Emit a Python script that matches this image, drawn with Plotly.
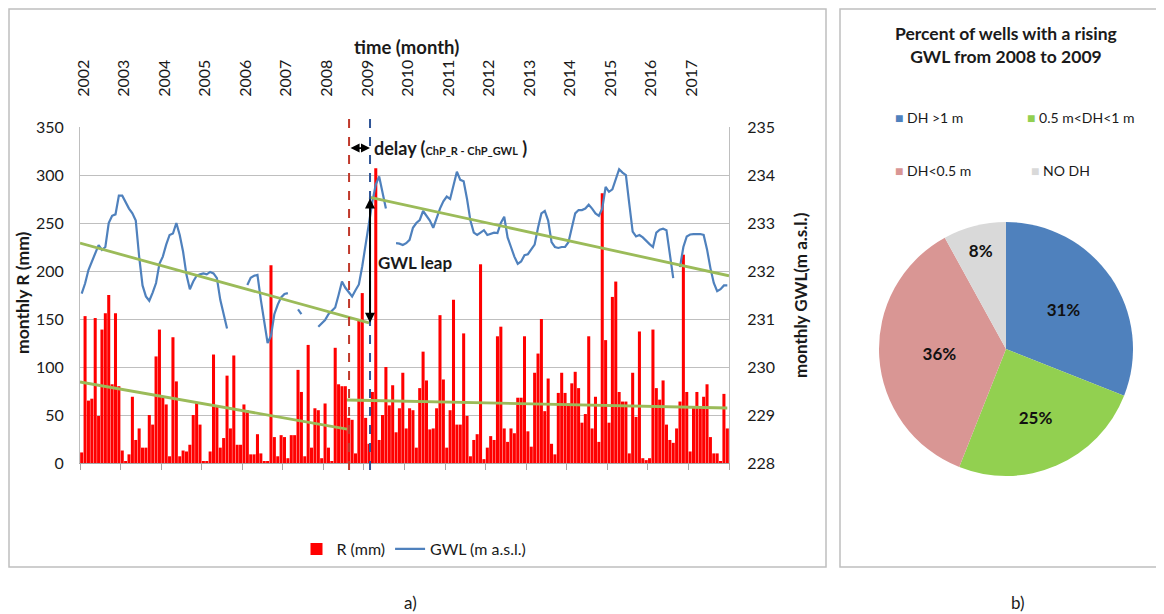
import plotly.graph_objects as go

# The page body has an 8px margin; the figure is sized to fill the rest of the window.
OFF = 8
W, H = 1164 - OFF, 614 - OFF

# ---------------- data ----------------
years = list(range(2002, 2018))
months = list(range(192))  # month index since Jan 2002

R_mm = [
    11, 153, 65, 67, 151, 49, 139, 156, 175, 82, 156, 80,      # 2002
    13, 2, 9, 69, 24, 36, 16, 16, 50, 40, 111, 139,            # 2003
    69, 61, 7, 131, 85, 7, 13, 12, 19, 50, 63, 40,             # 2004
    2, 2, 12, 113, 60, 16, 26, 91, 36, 112, 19, 19,            # 2005
    61, 55, 9, 9, 30, 10, 2, 2, 206, 27, 7, 29,                # 2006
    27, 5, 29, 29, 97, 74, 7, 123, 16, 57, 55, 5,              # 2007
    62, 16, 2, 120, 82, 80, 80, 47, 45, 10, 150, 177,          # 2008
    47, 20, 74, 307, 24, 50, 100, 60, 81, 32, 57, 94,          # 2009
    36, 57, 55, 16, 78, 116, 86, 35, 36, 57, 154, 87,          # 2010
    16, 55, 170, 40, 40, 135, 49, 7, 24, 30, 207, 4,           # 2011
    16, 28, 24, 132, 142, 36, 22, 36, 31, 68, 68, 132,         # 2012
    33, 17, 94, 114, 150, 54, 88, 20, 9, 73, 94, 73,           # 2013
    62, 83, 95, 78, 42, 51, 132, 36, 69, 22, 281, 128,         # 2014
    42, 173, 189, 74, 64, 64, 10, 94, 48, 137, 5, 3,           # 2015
    5, 139, 78, 66, 86, 40, 24, 21, 36, 64, 217, 74,           # 2016
    12, 58, 74, 58, 69, 82, 27, 10, 10, 2, 72, 36,             # 2017
]

GWL = [
    231.53, 231.74, 232.02, 232.2, 232.4, 232.54, 232.44, 232.5, 233.0, 233.15, 233.18, 233.57,
    233.57, 233.43, 233.3, 233.2, 233.05, 232.3, 231.7, 231.47, 231.38, 231.55, 231.75, 232.15,
    232.3, 232.55, 232.75, 232.78, 233.0, 232.75, 232.4, 231.92, 231.62, 231.78, 231.9, 231.93,
    231.95, 231.93, 231.98, 231.95, 231.85, 231.4, 231.08, 230.8, None, None, None, None,
    None, 231.71, 231.86, 231.9, 231.92, 231.4, 230.94, 230.5, 230.65, 231.1, 231.3, 231.45,
    231.52, 231.54, None, None, 231.2, 231.1, None, None, None, None, 230.84, 230.9,
    230.98, 231.1, 231.18, 231.24, 231.5, 231.78, 231.65, 231.55, 231.47, 231.6, 231.72, 232.1,
    232.6, 233.0, 233.45, 233.8, 233.97, 233.65, 233.3, None, None, 232.58, 232.57, 232.54,
    232.58, 232.65, 232.9, 233.0, 233.06, 233.25, 233.15, 233.05, 232.9, 233.1, 233.3, 233.45,
    233.55, 233.5, 233.8, 234.07, 233.9, 233.87, 233.5, 233.05, 232.8, 232.75, 232.8, 232.85,
    232.75, 232.78, 232.8, 232.79, 233.0, 233.13, 232.7, 232.5, 232.3, 232.15, 232.2, 232.33,
    232.35, 232.45, 232.55, 232.9, 233.2, 233.25, 233.05, 232.6, 232.5, 232.48, 232.5, 232.5,
    232.6, 232.9, 233.2, 233.27, 233.27, 233.3, 233.38, 233.3, 233.2, 233.15, 233.3, 233.75,
    233.65, 233.7, 233.9, 234.12, 234.05, 234.0, 233.4, 232.82, 232.72, 232.75, 232.7, 232.62,
    232.56, 232.5, 232.8, 232.86, 232.88, 232.85, 232.4, 231.85, None, 232.08, 232.5, 232.72,
    232.76, 232.77, 232.77, 232.77, 232.75, 232.45, 232.06, 231.75, 231.58, 231.62, 231.7, 231.7,
]

# change points (month index) and trend lines (start/end)
chp_R = 79.1
chp_GWL = 85.3
trend_R1_x, trend_R1_y = [-0.5, 78.5], [84.4, 35.4]
trend_R2_x, trend_R2_y = [78.5, 191.0], [65.6, 57.3]
trend_G1_x, trend_G1_y = [-0.5, 85.0], [232.58, 230.92]
trend_G2_x, trend_G2_y = [85.0, 191.5], [233.54, 231.9]

pie_labels = ["DH >1 m", "0.5 m<DH<1 m", "DH<0.5 m", "NO DH"]
pie_values = [31, 25, 36, 8]
pie_colors = ["#4F81BD", "#92D050", "#D99694", "#D9D9D9"]

# ---------------- helpers ----------------
FONT = "Lato, 'Open Sans', sans-serif"
TXT = "#1a1a1a"

def px(x):
    return (x - OFF) / W

def py(y):
    return 1 - (y - OFF) / H

fig = go.Figure()

fig.add_trace(go.Bar(x=months, y=R_mm, name="R (mm)", marker=dict(color="#FF0000", line=dict(width=0)),
                     yaxis="y", xaxis="x"))
fig.add_trace(go.Scatter(x=months, y=GWL, name="GWL (m a.s.l.)", mode="lines",
                         line=dict(color="#4F81BD", width=2.2), yaxis="y2", xaxis="x", connectgaps=False))

trend_style = dict(color="#9BBB59", width=2.8)
fig.add_trace(go.Scatter(x=trend_R1_x, y=trend_R1_y, mode="lines", line=trend_style, showlegend=False, yaxis="y"))
fig.add_trace(go.Scatter(x=trend_R2_x, y=trend_R2_y, mode="lines", line=trend_style, showlegend=False, yaxis="y"))
fig.add_trace(go.Scatter(x=trend_G1_x, y=trend_G1_y, mode="lines", line=trend_style, showlegend=False, yaxis="y2"))
fig.add_trace(go.Scatter(x=trend_G2_x, y=trend_G2_y, mode="lines", line=trend_style, showlegend=False, yaxis="y2"))

# dummy trace for top axis
fig.add_trace(go.Scatter(x=[0], y=[0], mode="markers", marker=dict(opacity=0), showlegend=False,
                         hoverinfo="skip", xaxis="x2", yaxis="y"))

fig.add_trace(go.Pie(labels=pie_labels, values=pie_values, marker=dict(colors=pie_colors, line=dict(width=0)),
                     sort=False, direction="clockwise", rotation=0,
                     texttemplate="<b>%{percent:.0%}</b>",
                     textposition="inside", insidetextorientation="horizontal",
                     textfont=dict(size=17, color="#111", family=FONT), showlegend=False,
                     domain=dict(x=[px(1006 - 127), px(1006 + 127)], y=[py(349 + 127), py(349 - 127)])))

year_ticks = [12 * k + 0.5 for k in range(len(years))]

fig.update_layout(
    width=W, height=H,
    margin=dict(l=0, r=0, t=0, b=0, autoexpand=False),
    paper_bgcolor="white", plot_bgcolor="white",
    font=dict(family=FONT, size=16, color=TXT),
    bargap=0.1,
    xaxis=dict(domain=[px(80), px(729)], range=[-0.5, 191.5], showgrid=False, zeroline=False,
               showline=True, linecolor="#A6A6A6", linewidth=1, automargin=False,
               tickmode="array", tickvals=[12 * k - 0.5 for k in range(17)], ticks="outside",
               ticklen=6, tickcolor="#A6A6A6", showticklabels=False),
    xaxis2=dict(overlaying="x", side="top", anchor="y", range=[-0.5, 191.5], showgrid=False,
                zeroline=False, showline=False, tickmode="array", tickvals=year_ticks, automargin=False,
                ticktext=[str(y) for y in years], tickangle=-90, ticks="outside", ticklen=26,
                tickcolor="rgba(0,0,0,0)", tickfont=dict(size=16, color=TXT)),
    yaxis=dict(domain=[py(463), py(127)], range=[0, 350], dtick=50, showgrid=True, gridcolor="#BFBFBF",
               gridwidth=1, zeroline=False, showline=True, linecolor="#BFBFBF", automargin=False,
               ticks="outside", ticklen=12, tickcolor="rgba(0,0,0,0)", tickfont=dict(size=16, color=TXT)),
    yaxis2=dict(overlaying="y", side="right", anchor="x", range=[228, 235], dtick=1, showgrid=False,
                zeroline=False, showline=True, linecolor="#BFBFBF", automargin=False,
                ticks="outside", ticklen=14, tickcolor="rgba(0,0,0,0)", tickfont=dict(size=16, color=TXT)),
    legend=dict(orientation="h", x=px(414), xanchor="center", y=py(549), yanchor="middle",
                font=dict(size=16, color=TXT), bgcolor="rgba(0,0,0,0)", traceorder="normal"),
)

shapes = [
    # panel frames
    dict(type="rect", xref="paper", yref="paper", x0=px(9), x1=px(826), y0=py(567), y1=py(9),
         line=dict(color="#BFBFBF", width=1.5)),
    dict(type="rect", xref="paper", yref="paper", x0=px(840), x1=px(1162), y0=py(567), y1=py(9),
         line=dict(color="#BFBFBF", width=1.5)),
    # change point lines
    dict(type="line", xref="x", yref="paper", x0=chp_R, x1=chp_R, y0=py(470), y1=py(117),
         line=dict(color="#C0392B", width=2, dash="dash")),
    dict(type="line", xref="x", yref="paper", x0=chp_GWL, x1=chp_GWL, y0=py(470), y1=py(117),
         line=dict(color="#2F5597", width=2, dash="dash")),
]
fig.update_layout(shapes=shapes)


def label(text, x, y, size, xanchor="center", angle=0):
    return dict(text=text, x=px(x), y=py(y), xref="paper", yref="paper", showarrow=False,
                xanchor=xanchor, yanchor="middle", textangle=angle, font=dict(size=size, color=TXT))


ann = [
    label("<b>time (month)</b>", 406, 47, 18.5),
    label("<b>monthly R (mm)</b>", 22, 293, 17.5, angle=-90),
    label("<b>monthly GWL(m a.s.l.)</b>", 800, 295, 17, angle=-90),
    # delay arrow
    dict(x=chp_GWL, y=328, xref="x", yref="y", ax=chp_R, ay=328, axref="x", ayref="y", text="",
         showarrow=True, arrowhead=2, arrowside="end+start", arrowsize=1, arrowwidth=1.8, arrowcolor="#000"),
    label("<b>delay (</b><b><span style='font-size:11px'>ChP_R - ChP_GWL</span></b><b> )</b>", 372, 148, 18,
          xanchor="left"),
    # GWL leap arrow
    dict(x=chp_GWL, y=trend_G1_y[1], xref="x", yref="y2", ax=chp_GWL, ay=trend_G2_y[0], axref="x",
         ayref="y2", text="", showarrow=True, arrowhead=2, arrowside="end+start", arrowsize=1,
         arrowwidth=2, arrowcolor="#000"),
    label("<b>GWL leap</b>", 376, 262, 17, xanchor="left"),
    # panel labels
    label("a)", 410, 602, 17),
    label("b)", 1018, 602, 17),
    # pie title
    label("<b>Percent of wells with a rising<br>GWL from 2008 to 2009</b>", 1006, 45, 17.5),
]
# pie legend (2 x 2)
leg_pos = [(893, 117), (1025, 117), (893, 170), (1029, 170)]
for (lx, ly), lab, col in zip(leg_pos, pie_labels, pie_colors):
    ann.append(label(f"<span style='color:{col}'>■</span> {lab}", lx, ly, 14, xanchor="left"))
fig.update_layout(annotations=ann)

fig.write_html("out.html")
